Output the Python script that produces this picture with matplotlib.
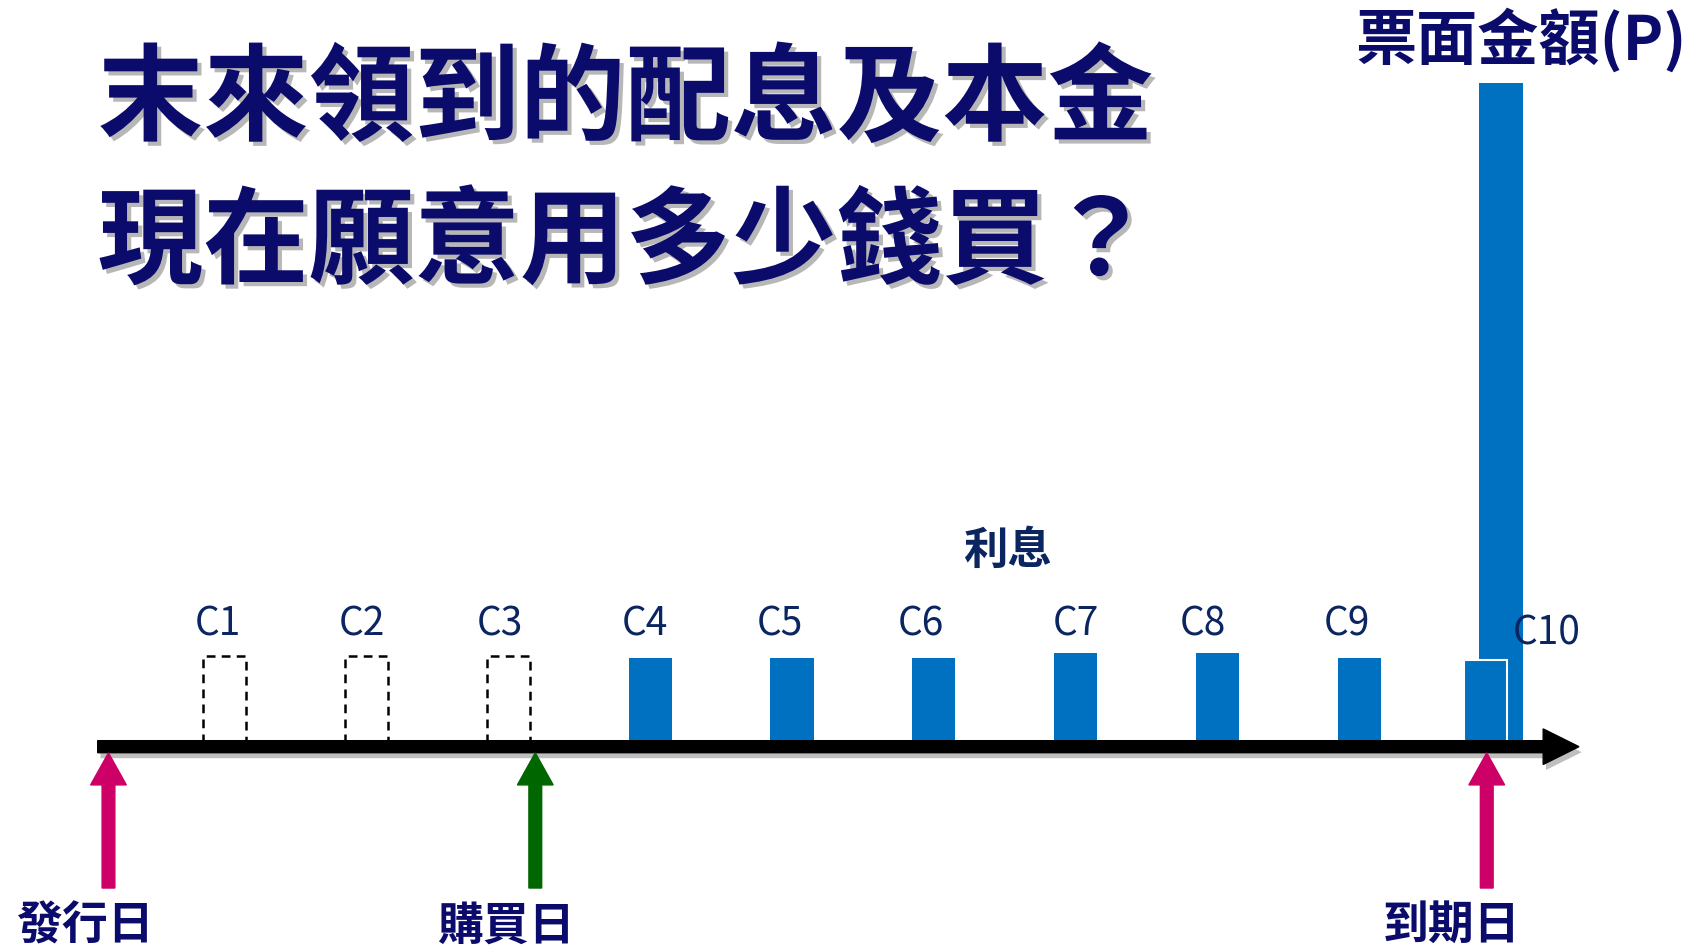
import matplotlib
matplotlib.use("Agg")
import matplotlib.pyplot as plt
import matplotlib.patheffects as pe

plt.rcParams["font.family"] = ["Noto Sans CJK TC", "DejaVu Sans"]

# %%
# Chart data
title_lines = ["末來領到的配息及本金", "現在願意用多少錢買？"]
coupon_labels = ["C1", "C2", "C3", "C4", "C5", "C6", "C7", "C8", "C9", "C10"]
coupon_periods = [1, 2, 3, 4, 5, 6, 7, 8, 9, 10]
coupon_heights = [1.02, 1.02, 1.02, 1.0, 1.0, 1.0, 1.05, 1.05, 1.0, 0.975]
coupon_received = [False, False, False, True, True, True, True, True, True, True]
face_value = 7.47
face_period = 10
face_label = "票面金額(P)"
interest_label = "利息"
date_labels = ["發行日", "購買日", "到期日"]
date_periods = [0.18, 3.19, 9.9]

# %%
# Layout / style
navy = "#0B0B6B"
label_blue = "#0A2560"
bar_blue = "#0070C0"
arrow_colors = ["#CC0066", "#006600", "#CC0066"]
bar_w = 0.305
c10_shift = -0.11
label_nudge = [-0.05, -0.035, -0.06, -0.035, -0.085, -0.09, 0.0, -0.1, -0.087]
date_label_dx = [-0.17, -0.21, -0.25]

fig = plt.figure(figsize=(17.02, 9.49), dpi=100)
ax = fig.add_axes([0, 0, 1, 1])
ax.set_xlim(-0.585, 11.418)
ax.set_ylim(-2.276, 8.40)
ax.axis("off")

# face value bar, drawn behind the last coupon
ax.bar(face_period, face_value, width=bar_w, color=bar_blue, zorder=1)

for i, (lab, p, h, got) in enumerate(zip(coupon_labels, coupon_periods,
                                        coupon_heights, coupon_received)):
    if lab == "C10":
        ax.bar(p + c10_shift, h, width=bar_w, color=bar_blue,
               edgecolor="white", linewidth=1.5, zorder=2)
        ax.text(10.325, 1.268, lab, ha="center", va="center",
                fontsize=28, color=label_blue, zorder=4)
        continue
    if got:
        ax.bar(p, h, width=bar_w, color=bar_blue, zorder=2)
    else:
        ax.bar(p, h, width=bar_w, fill=False, edgecolor="black",
               linestyle=(0, (3.5, 2.5)), linewidth=1.8, zorder=2)
    ax.text(p + label_nudge[i], 1.38, lab, ha="center", va="center",
            fontsize=28, color=label_blue)

ax.text(6.52, 2.2, interest_label, ha="center", va="center",
        fontsize=32, fontweight="bold", color=label_blue)

# time axis
ax.arrow(0.104, 0, 10.446, 0, width=0.135, head_width=0.40,
         head_length=0.252, length_includes_head=True, fc="black", ec="black",
         zorder=3,
         path_effects=[pe.SimplePatchShadow(offset=(2, -4), alpha=0.25),
                       pe.Normal()])

# date arrows and labels
for lab, p, c, dx in zip(date_labels, date_periods, arrow_colors, date_label_dx):
    ax.arrow(p, -1.59, 0, 1.52, width=0.09, head_width=0.252,
             head_length=0.36, length_includes_head=True, fc=c, ec=c,
             zorder=3)
    ax.text(p + dx, -2.02, lab, ha="center", va="center", fontsize=33,
            fontweight="bold", color=navy)

# title with shadow
shadow = [pe.withSimplePatchShadow(offset=(3, -3), shadow_rgbFace="#888888",
                                   alpha=0.6)]
fig.text(0.0574, 0.8936, title_lines[0], ha="left", va="center",
         fontsize=76, fontweight="bold", color=navy, path_effects=shadow)
fig.text(0.0574, 0.7429, title_lines[1], ha="left", va="center",
         fontsize=76, fontweight="bold", color=navy, path_effects=shadow)

fig.text(0.8937, 0.958, face_label, ha="center", va="center",
         fontsize=44, fontweight="bold", color=navy)

fig.savefig("out.png", dpi=100)
